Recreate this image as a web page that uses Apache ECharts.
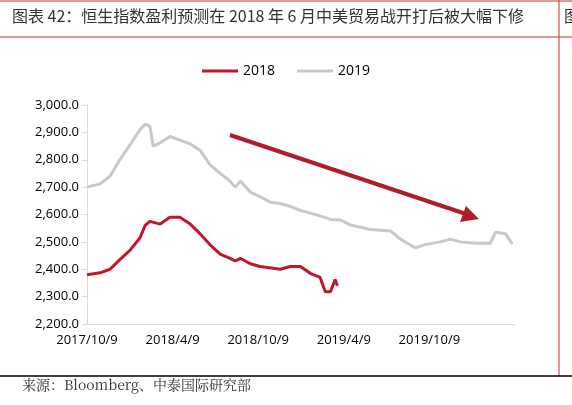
<!DOCTYPE html>
<html>
<head>
<meta charset="utf-8">
<script src="https://cdn.jsdelivr.net/npm/echarts@6/dist/echarts.min.js"></script>
<style>html,body{margin:0;padding:0;background:#fff}#chart{width:572px;height:405px}</style>
</head>
<body>
<div id="chart"></div>
<script>
// x = days since 2017/10/9
var tickLabels = ['2017/10/9', '2018/4/9', '2018/10/9', '2019/4/9', '2019/10/9', ''];

var days2019 = [0, 28, 49, 70, 92, 113, 124, 134, 141, 156, 177, 198, 220, 241, 262, 284, 305, 316, 327, 348, 369, 391, 412, 433, 455, 476, 497, 519, 540, 561, 604, 647, 668, 686, 700, 721, 753, 775, 796, 828, 860, 871, 892, 907];
var vals2019 = [2700, 2712, 2740, 2800, 2855, 2910, 2930, 2922, 2850, 2862, 2885, 2872, 2858, 2835, 2782, 2750, 2722, 2700, 2722, 2682, 2665, 2645, 2640, 2630, 2615, 2605, 2595, 2582, 2580, 2562, 2545, 2540, 2510, 2492, 2478, 2490, 2500, 2510, 2500, 2495, 2495, 2535, 2530, 2492];

var days2018 = [0, 28, 49, 70, 92, 113, 124, 134, 156, 177, 198, 220, 241, 262, 284, 305, 316, 327, 348, 369, 412, 433, 455, 476, 497, 508, 519, 529, 534];
var vals2018 = [2380, 2387, 2400, 2435, 2470, 2515, 2560, 2575, 2565, 2590, 2590, 2565, 2530, 2490, 2455, 2440, 2430, 2440, 2420, 2410, 2400, 2410, 2410, 2385, 2370, 2318, 2318, 2362, 2340];

function zip(a, b) {
    var out = [];
    for (var i = 0; i < a.length; i++) out.push([a[i], b[i]]);
    return out;
}

var myChart = echarts.init(document.getElementById('chart'));
var font = '"Noto Sans CJK SC", sans-serif';
var option = {
    animation: false,
    textStyle: {fontFamily: '"Open Sans", "Liberation Sans", sans-serif'},
    legend: {
        top: 59, left: 'center', itemWidth: 36, itemHeight: 3, itemGap: 22,
        icon: 'rect',
        textStyle: {fontSize: 14, color: '#000'},
        data: ['2018', '2019']
    },
    grid: {left: 87, right: 57, top: 105, bottom: 81},
    xAxis: {
        type: 'value', min: 0, max: 912.5, interval: 182.5,
        splitLine: {show: false},
        axisLine: {lineStyle: {color: '#d9d9d9'}},
        axisTick: {show: false},
        axisLabel: {
            color: '#000', fontSize: 13, margin: 10,
            formatter: function (v) { return tickLabels[Math.round(v / 182.5)] || ''; }
        }
    },
    yAxis: {
        type: 'value', min: 2200, max: 3000, interval: 100,
        splitLine: {show: false},
        axisLine: {show: true, lineStyle: {color: '#d9d9d9'}},
        axisTick: {show: true, inside: false, length: 5, lineStyle: {color: '#d9d9d9'}},
        axisLabel: {
            color: '#000', fontSize: 13, margin: 8,
            formatter: function (v) { return v.toLocaleString('en-US', {minimumFractionDigits: 1}); }
        }
    },
    series: [
        {name: '2018', type: 'line', data: zip(days2018, vals2018), showSymbol: false, symbol: 'none',
         lineStyle: {color: '#c0172d', width: 3}, itemStyle: {color: '#c0172d'}},
        {name: '2019', type: 'line', data: zip(days2019, vals2019), showSymbol: false, symbol: 'none',
         lineStyle: {color: '#c8c8c8', width: 3}, itemStyle: {color: '#c8c8c8'}}
    ],
    graphic: [
        {type: 'line', shape: {x1: 0, y1: 1, x2: 572, y2: 1}, style: {stroke: '#c0392b', lineWidth: 1}},
        {type: 'line', shape: {x1: 0, y1: 37, x2: 572, y2: 37}, style: {stroke: '#c0392b', lineWidth: 1}},
        {type: 'line', shape: {x1: 559, y1: 0, x2: 559, y2: 376}, style: {stroke: '#c0392b', lineWidth: 1}},
        {type: 'line', shape: {x1: 0, y1: 376, x2: 572, y2: 376}, style: {stroke: '#000', lineWidth: 1.5}},
        {type: 'text', left: 12, top: 8, style: {text: '图表 42：恒生指数盈利预测在 2018 年 6 月中美贸易战开打后被大幅下修', font: '16px ' + font, fill: '#333'}},
        {type: 'text', left: 564, top: 8, style: {text: '图', font: '16px ' + font, fill: '#333'}},
        {type: 'text', left: 22, top: 378, style: {text: '来源：Bloomberg、中泰国际研究部', font: '14px "Noto Serif CJK SC", "DejaVu Serif", serif', fill: '#333'}},
        {type: 'line', shape: {x1: 230, y1: 135, x2: 466, y2: 214}, style: {stroke: '#b01c2a', lineWidth: 4}},
        {type: 'polygon', shape: {points: [[479, 219], [460, 222], [466, 206]]}, style: {fill: '#b01c2a'}}
    ]
};
myChart.setOption(option);
</script>
</body>
</html>
